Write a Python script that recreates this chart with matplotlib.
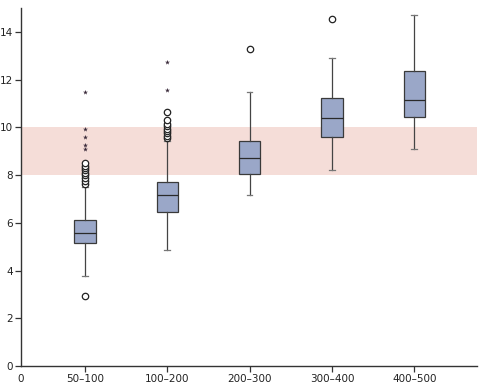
import matplotlib
matplotlib.use("Agg")
import matplotlib.pyplot as plt

# box statistics
categories = ["50\u2013100", "100\u2013200", "200\u2013300", "300\u2013400", "400\u2013500"]
whis_lo = [3.79, 4.86, 7.18, 8.21, 9.11]
q1 = [5.14, 6.45, 8.03, 9.60, 10.45]
medians = [5.56, 7.15, 8.73, 10.41, 11.17]
q3 = [6.12, 7.70, 9.43, 11.25, 12.35]
whis_hi = [7.49, 9.45, 11.50, 12.92, 14.71]

# mild outliers (circles)
outliers = [
    [2.93, 7.62, 7.75, 7.88, 8.00, 8.10, 8.20, 8.30, 8.40, 8.50],
    [9.55, 9.65, 9.75, 9.85, 9.95, 10.05, 10.15, 10.30, 10.65],
    [13.27],
    [14.54],
    [],
]
# extreme outliers (stars)
extremes = [
    [9.09, 9.26, 9.60, 9.93, 11.47],
    [11.57, 12.74],
    [],
    [],
    [],
]

band_lo, band_hi = 8, 10

fig = plt.figure(figsize=(4.85, 3.87), dpi=100)
ax = fig.add_axes([0.0433, 0.0543, 0.9402, 0.9247])

ax.axhspan(band_lo, band_hi, color="#f5ddd8", lw=0, zorder=0)

stats = []
for i in range(len(categories)):
    stats.append(dict(whislo=whis_lo[i], q1=q1[i], med=medians[i], q3=q3[i],
                      whishi=whis_hi[i], fliers=outliers[i]))

pos = list(range(1, len(categories) + 1))
ax.bxp(stats, positions=pos, widths=0.26, patch_artist=True,
       boxprops=dict(facecolor="#9aa7c8", edgecolor="#3a3a3a", lw=0.9),
       medianprops=dict(color="#2a2a2a", lw=0.9),
       whiskerprops=dict(color="#444444", lw=0.9),
       capprops=dict(color="#777777", lw=0.9),
       capwidths=0.07,
       flierprops=dict(marker="o", markerfacecolor="white", markeredgecolor="#222222",
                       markersize=4.6, markeredgewidth=0.9))

for i, vals in enumerate(extremes):
    if vals:
        ax.scatter([pos[i]] * len(vals), vals, marker="*", s=14, color="#3a2a3a",
                   zorder=4, linewidths=0)

ax.set_xlim(0.222, 5.763)
ax.set_ylim(0, 15)
ax.set_xticks([0.222] + pos)
ax.set_xticklabels(["0"] + categories)
ax.set_yticks([0, 2, 4, 6, 8, 10, 12, 14])

for s in ["top", "right"]:
    ax.spines[s].set_visible(False)
for s in ["left", "bottom"]:
    ax.spines[s].set_color("#333333")
    ax.spines[s].set_linewidth(1.0)

ax.tick_params(axis="both", labelsize=7.5, length=4, width=0.9, color="#333333",
               labelcolor="#222222", pad=2)
ax.xaxis.get_major_ticks()[0].tick1line.set_visible(False)

fig.savefig("out.png", dpi=100)
